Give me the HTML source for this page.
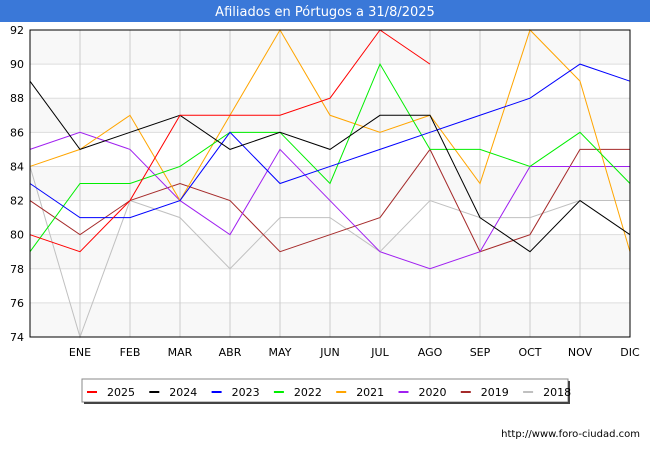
<!DOCTYPE html>
<html><head><meta charset="utf-8"><style>
body{margin:0;background:#fff;font-family:"Liberation Sans","DejaVu Sans",sans-serif}
</style></head><body>
<svg id="c" width="650" height="450" xmlns="http://www.w3.org/2000/svg" font-family="DejaVu Sans, Liberation Sans, sans-serif">
<rect x="0" y="0" width="650" height="22" fill="#3a78d8"/>
<text x="325" y="16" text-anchor="middle" font-size="13" fill="#fff">Afiliados en Pórtugos a 31/8/2025</text>
<g id="plot"></g>
<rect x="82" y="379" width="486" height="23" fill="#fff" stroke="#888"/>
<rect x="568" y="381" width="2" height="23" fill="#444"/><rect x="84" y="402" width="486" height="2" fill="#444"/>
<g id="legend"></g>
<text x="640" y="437" text-anchor="end" font-size="10" fill="#000">http://www.foro-ciudad.com</text>
</svg>
<script>
const months=["","ENE","FEB","MAR","ABR","MAY","JUN","JUL","AGO","SEP","OCT","NOV","DIC"];
const yTicks=[74,76,78,80,82,84,86,88,90,92];
const seriesNames=["2025","2024","2023","2022","2021","2020","2019","2018"];
const colors=["#ff0000","#000000","#0000ff","#00ee00","#ffa500","#a020f0","#a52a2a","#c0c0c0"];
const s2025=[80,79,82,87,87,87,88,92,90];
const s2024=[89,85,86,87,85,86,85,87,87,81,79,82,80];
const s2023=[83,81,81,82,86,83,84,85,86,87,88,90,89];
const s2022=[79,83,83,84,86,86,83,90,85,85,84,86,83];
const s2021=[84,85,87,82,87,92,87,86,87,83,92,89,79];
const s2020=[85,86,85,82,80,85,82,79,78,79,84,84,84];
const s2019=[82,80,82,83,82,79,80,81,85,79,80,85,85];
const s2018=[84,74,82,81,78,81,81,79,82,81,81,82,82];
const allSeries=[s2025,s2024,s2023,s2022,s2021,s2020,s2019,s2018];
const L=30,R=630,T=30,B=337,yMin=74,yMax=92;
const xs=i=>L+i*(R-L)/12;
const ys=v=>B-(v-yMin)*(B-T)/(yMax-yMin);
const NS="http://www.w3.org/2000/svg";
const plot=document.getElementById('plot');
function mk(tag,attrs,parent){const e=document.createElementNS(NS,tag);for(const k in attrs)e.setAttribute(k,attrs[k]);parent.appendChild(e);return e;}
for(let i=0;i<yTicks.length-1;i++){
  if(i%2===0){const b=mk('rect',{x:L,y:ys(yTicks[i+1]),width:R-L,height:ys(yTicks[i])-ys(yTicks[i+1]),fill:'#f8f8f8'},plot);
  
  }
}
yTicks.forEach(v=>{
  const g=mk('line',{x1:L,x2:R,y1:ys(v),y2:ys(v),stroke:'#ddd'},plot);
  
  
  const t=mk('text',{x:L-6,y:ys(v)+4,'text-anchor':'end','font-size':11,fill:'#000'},plot);t.textContent=v;
  
  
});
months.forEach((m,i)=>{
  if(i>0){const g=mk('line',{x1:xs(i),x2:xs(i),y1:T,y2:B,stroke:'#ccc'},plot);
  
  }
  if(m){const t=mk('text',{x:xs(i),y:356,'text-anchor':'middle','font-size':11,fill:'#000'},plot);t.textContent=m;
  
  }
});
for(let k=allSeries.length-1;k>=0;k--){
  const d=allSeries[k].map((v,i)=>xs(i)+','+ys(v)).join(' ');
  const p=mk('polyline',{points:d,fill:'none',stroke:colors[k],'stroke-width':1},plot);
  
  
}
const fr=mk('rect',{x:L,y:T,width:R-L,height:B-T,fill:'none',stroke:'#000','stroke-width':1},plot);


const lg=document.getElementById('legend');
seriesNames.forEach((n,k)=>{
  const x0=87+k*62.3;
  const g=mk('g',{},lg);
  
  
  mk('line',{x1:x0,x2:x0+10,y1:392,y2:392,stroke:colors[k],'stroke-width':2},g);
  const t=mk('text',{x:x0+20,y:396,'font-size':11,fill:'#000'},g);t.textContent=n;
});
</script>
</body></html>
